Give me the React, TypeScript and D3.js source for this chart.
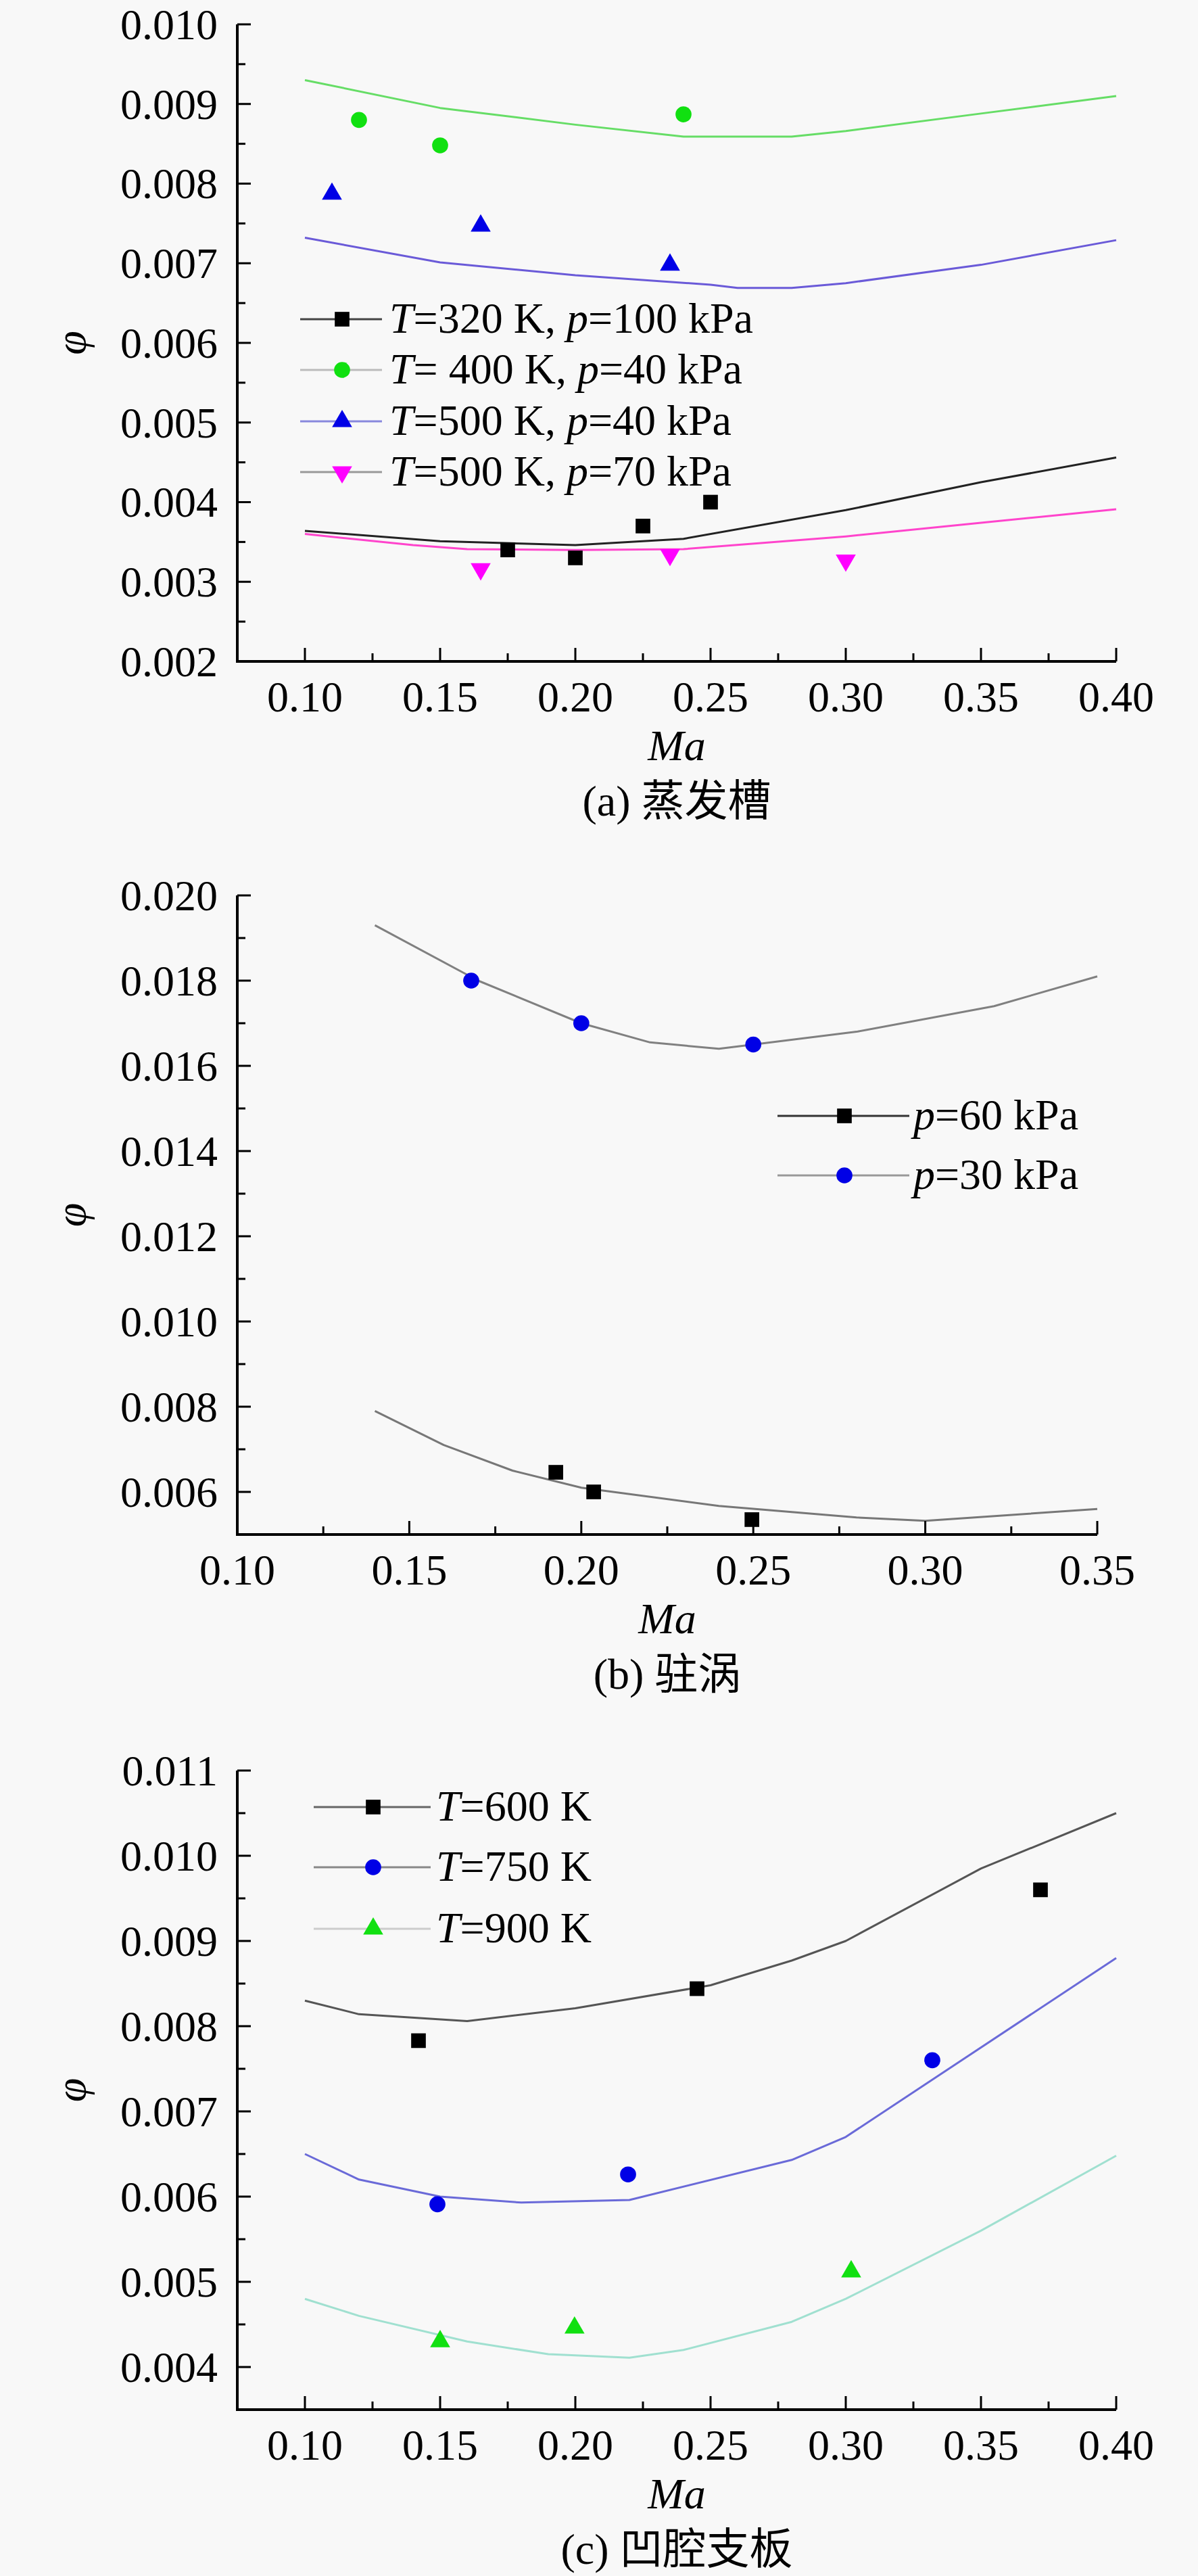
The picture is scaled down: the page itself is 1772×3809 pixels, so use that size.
import React from "react"
import * as d3 from "d3"

// ---------- data: (a) 蒸发槽 ----------
const aLineX320 = [0.10, 0.15, 0.20, 0.24, 0.30, 0.35, 0.40]
const aLineY320 = [0.00364, 0.00351, 0.00346, 0.00354, 0.0039, 0.00425, 0.00456]
const aLineX400 = [0.10, 0.15, 0.20, 0.24, 0.28, 0.30, 0.35, 0.40]
const aLineY400 = [0.0093, 0.00895, 0.00874, 0.00859, 0.00859, 0.00866, 0.00888, 0.0091]
const aLineX500a = [0.10, 0.15, 0.20, 0.25, 0.26, 0.28, 0.30, 0.35, 0.40]
const aLineY500a = [0.00732, 0.00701, 0.00685, 0.00673, 0.00669, 0.00669, 0.00675, 0.00698, 0.00729]
const aLineX500b = [0.10, 0.14, 0.16, 0.20, 0.24, 0.30, 0.35, 0.40]
const aLineY500b = [0.0036, 0.00346, 0.00341, 0.0034, 0.00341, 0.00357, 0.00374, 0.00391]

const aExpX320 = [0.175, 0.20, 0.225, 0.25]
const aExpY320 = [0.0034, 0.0033, 0.0037, 0.0040]
const aExpX400 = [0.12, 0.15, 0.24]
const aExpY400 = [0.0088, 0.00848, 0.00887]
const aExpX500a = [0.11, 0.165, 0.235]
const aExpY500a = [0.00787, 0.00747, 0.00698]
const aExpX500b = [0.165, 0.235, 0.30]
const aExpY500b = [0.00316, 0.00334, 0.00327]

// ---------- data: (b) 驻涡 ----------
const bLineX60 = [0.14, 0.16, 0.18, 0.20, 0.24, 0.28, 0.30, 0.35]
const bLineY60 = [0.0079, 0.0071, 0.0065, 0.0061, 0.00567, 0.0054, 0.00532, 0.0056]
const bLineX30 = [0.14, 0.17, 0.20, 0.22, 0.24, 0.25, 0.28, 0.32, 0.35]
const bLineY30 = [0.0193, 0.0180, 0.0170, 0.01655, 0.0164, 0.0165, 0.0168, 0.0174, 0.0181]
const bExpX60 = [0.1926, 0.2036, 0.2496]
const bExpY60 = [0.00646, 0.0060, 0.00535]
const bExpX30 = [0.168, 0.20, 0.25]
const bExpY30 = [0.0180, 0.0170, 0.0165]

// ---------- data: (c) 凹腔支板 ----------
const cLineX600 = [0.10, 0.12, 0.16, 0.20, 0.25, 0.28, 0.30, 0.35, 0.40]
const cLineY600 = [0.0083, 0.00814, 0.00806, 0.00821, 0.00848, 0.00877, 0.009, 0.00985, 0.0105]
const cLineX750 = [0.10, 0.12, 0.15, 0.18, 0.22, 0.28, 0.30, 0.40]
const cLineY750 = [0.0065, 0.0062, 0.006, 0.00593, 0.00596, 0.00643, 0.0067, 0.0088]
const cLineX900 = [0.10, 0.12, 0.16, 0.19, 0.22, 0.24, 0.28, 0.30, 0.35, 0.40]
const cLineY900 = [0.0048, 0.0046, 0.0043, 0.00415, 0.00411, 0.0042, 0.00453, 0.0048, 0.0056, 0.00648]
const cExpX600 = [0.142, 0.245, 0.372]
const cExpY600 = [0.00783, 0.00844, 0.0096]
const cExpX750 = [0.149, 0.2195, 0.332]
const cExpY750 = [0.00591, 0.00626, 0.0076]
const cExpX900 = [0.15, 0.1997, 0.302]
const cExpY900 = [0.0043, 0.00446, 0.00512]

// ---------- ticks ----------
const xMajorAC = [0.10, 0.15, 0.20, 0.25, 0.30, 0.35, 0.40]
const xMinorAC = [0.125, 0.175, 0.225, 0.275, 0.325, 0.375]
const yMajorA = [0.002, 0.003, 0.004, 0.005, 0.006, 0.007, 0.008, 0.009, 0.010]
const yMinorA = [0.0025, 0.0035, 0.0045, 0.0055, 0.0065, 0.0075, 0.0085, 0.0095]
const xMajorB = [0.10, 0.15, 0.20, 0.25, 0.30, 0.35]
const xMinorB = [0.125, 0.175, 0.225, 0.275, 0.325]
const yMajorB = [0.006, 0.008, 0.010, 0.012, 0.014, 0.016, 0.018, 0.020]
const yMinorB = [0.007, 0.009, 0.011, 0.013, 0.015, 0.017, 0.019]
const yMajorC = [0.004, 0.005, 0.006, 0.007, 0.008, 0.009, 0.010, 0.011]
const yMinorC = [0.0045, 0.0055, 0.0065, 0.0075, 0.0085, 0.0095, 0.0105]

const FONT = '"Liberation Serif", "Times New Roman", "Noto Sans CJK SC", serif'
const FS = 64

type Series = {
  lx: number[]; ly: number[]; px: number[]; py: number[]
  line: string; marker: string; shape: "square" | "circle" | "up" | "down"
  legendLine: string; label: React.ReactNode
}

type PanelCfg = {
  xDomain: [number, number]; xRange: [number, number]
  yDomain: [number, number]; yRange: [number, number]
  xMajor: number[]; xMinor: number[]; yMajor: number[]; yMinor: number[]
  series: Series[]
  legend: { rows: number[]; x0: number; x1: number; mx: number; tx: number }
  caption: string
}

const it = (s: string) => <tspan fontStyle="italic">{s}</tspan>

function markerPath(shape: Series["shape"]) {
  if (shape === "square") return d3.symbol(d3.symbolSquare, 470)()
  if (shape === "circle") return d3.symbol(d3.symbolCircle, 440)()
  return d3.symbol(d3.symbolTriangle, 380)()
}

function Marker({ x, y, s }: { x: number; y: number; s: Series }) {
  const rot = s.shape === "down" ? " rotate(180)" : ""
  return <path d={markerPath(s.shape) || ""} transform={`translate(${x},${y})${rot}`} fill={s.marker} />
}

function Panel({ cfg }: { cfg: PanelCfg }) {
  const x = d3.scaleLinear().domain(cfg.xDomain).range(cfg.xRange)
  const y = d3.scaleLinear().domain(cfg.yDomain).range(cfg.yRange)
  const [left, right] = cfg.xRange
  const [bottom, top] = cfg.yRange
  const fx = d3.format(".2f")
  const fy = d3.format(".3f")
  const midX = (left + right) / 2
  const midY = (top + bottom) / 2

  return (
    <g fontFamily={FONT} fontSize={FS} fill="#000">
      {cfg.series.map((s, i) => {
        const pts = s.lx.map((v, k) => [v, s.ly[k]] as [number, number])
        const path = d3.line<[number, number]>().x(d => x(d[0])).y(d => y(d[1]))(pts) || ""
        return <path key={"l" + i} d={path} fill="none" stroke={s.line} strokeWidth={3} strokeLinejoin="round" />
      })}
      {cfg.series.map((s, i) =>
        s.px.map((v, k) => <Marker key={`m${i}-${k}`} x={x(v)} y={y(s.py[k])} s={s} />)
      )}

      {/* axes */}
      <line x1={left} x2={left} y1={top} y2={bottom + 2} stroke="#000" strokeWidth={4} />
      <line x1={left - 2} x2={right} y1={bottom} y2={bottom} stroke="#000" strokeWidth={4} />
      {cfg.xMajor.map(v => (
        <g key={"xM" + v}>
          <line x1={x(v)} x2={x(v)} y1={bottom} y2={bottom - 20} stroke="#000" strokeWidth={3} />
          <text x={x(v)} y={bottom + 74} textAnchor="middle">{fx(v)}</text>
        </g>
      ))}
      {cfg.xMinor.map(v => (
        <line key={"xm" + v} x1={x(v)} x2={x(v)} y1={bottom} y2={bottom - 12} stroke="#000" strokeWidth={3} />
      ))}
      {cfg.yMajor.map(v => (
        <g key={"yM" + v}>
          <line x1={left} x2={left + 20} y1={y(v)} y2={y(v)} stroke="#000" strokeWidth={3} />
          <text x={left - 29} y={y(v)} dy="0.34em" textAnchor="end">{fy(v)}</text>
        </g>
      ))}
      {cfg.yMinor.map(v => (
        <line key={"ym" + v} x1={left} x2={left + 12} y1={y(v)} y2={y(v)} stroke="#000" strokeWidth={3} />
      ))}

      <text x={midX} y={bottom + 146} textAnchor="middle" fontStyle="italic">Ma</text>
      <text x={107} y={midY} dy="0.3em" textAnchor="middle" fontStyle="italic"
        transform={`rotate(-90,107,${midY})`}>φ</text>
      <text x={midX} y={bottom + 228} textAnchor="middle">{cfg.caption}</text>

      {/* legend */}
      {cfg.series.map((s, i) => {
        const ry = cfg.legend.rows[i]
        return (
          <g key={"lg" + i}>
            <line x1={cfg.legend.x0} x2={cfg.legend.x1} y1={ry} y2={ry} stroke={s.legendLine} strokeWidth={3} />
            <Marker x={cfg.legend.mx} y={ry} s={s} />
            <text x={cfg.legend.tx} y={ry} dy="0.31em">{s.label}</text>
          </g>
        )
      })}
    </g>
  )
}

const panelA: PanelCfg = {
  xDomain: [0.075, 0.40], xRange: [351, 1651],
  yDomain: [0.002, 0.010], yRange: [978, 36],
  xMajor: xMajorAC, xMinor: xMinorAC, yMajor: yMajorA, yMinor: yMinorA,
  series: [
    { lx: aLineX320, ly: aLineY320, px: aExpX320, py: aExpY320, line: "#222222", marker: "#000000", shape: "square",
      legendLine: "#444444", label: <>{it("T")}=320 K, {it("p")}=100 kPa</> },
    { lx: aLineX400, ly: aLineY400, px: aExpX400, py: aExpY400, line: "#66dd66", marker: "#11e011", shape: "circle",
      legendLine: "#bbbbbb", label: <>{it("T")}= 400 K, {it("p")}=40 kPa</> },
    { lx: aLineX500a, ly: aLineY500a, px: aExpX500a, py: aExpY500a, line: "#6a5ad8", marker: "#0000e6", shape: "up",
      legendLine: "#8888dd", label: <>{it("T")}=500 K, {it("p")}=40 kPa</> },
    { lx: aLineX500b, ly: aLineY500b, px: aExpX500b, py: aExpY500b, line: "#ff44cc", marker: "#ff00ff", shape: "down",
      legendLine: "#999999", label: <>{it("T")}=500 K, {it("p")}=70 kPa</> },
  ],
  legend: { rows: [472, 547, 623, 698], x0: 444, x1: 565, mx: 506, tx: 576 },
  caption: "(a) 蒸发槽",
}

const panelB: PanelCfg = {
  xDomain: [0.10, 0.35], xRange: [351, 1623],
  yDomain: [0.005, 0.020], yRange: [2269, 1324],
  xMajor: xMajorB, xMinor: xMinorB, yMajor: yMajorB, yMinor: yMinorB,
  series: [
    { lx: bLineX60, ly: bLineY60, px: bExpX60, py: bExpY60, line: "#777777", marker: "#000000", shape: "square",
      legendLine: "#333333", label: <>{it("p")}=60 kPa</> },
    { lx: bLineX30, ly: bLineY30, px: bExpX30, py: bExpY30, line: "#808080", marker: "#0000e6", shape: "circle",
      legendLine: "#999999", label: <>{it("p")}=30 kPa</> },
  ],
  legend: { rows: [1650, 1738], x0: 1150, x1: 1345, mx: 1249, tx: 1351 },
  caption: "(b) 驻涡",
}

const panelC: PanelCfg = {
  xDomain: [0.075, 0.40], xRange: [351, 1651],
  yDomain: [0.0035, 0.011], yRange: [3563, 2618],
  xMajor: xMajorAC, xMinor: xMinorAC, yMajor: yMajorC, yMinor: yMinorC,
  series: [
    { lx: cLineX600, ly: cLineY600, px: cExpX600, py: cExpY600, line: "#555555", marker: "#000000", shape: "square",
      legendLine: "#666666", label: <>{it("T")}=600 K</> },
    { lx: cLineX750, ly: cLineY750, px: cExpX750, py: cExpY750, line: "#6a6ad8", marker: "#0000e6", shape: "circle",
      legendLine: "#888888", label: <>{it("T")}=750 K</> },
    { lx: cLineX900, ly: cLineY900, px: cExpX900, py: cExpY900, line: "#a0e0d0", marker: "#11e011", shape: "up",
      legendLine: "#cccccc", label: <>{it("T")}=900 K</> },
  ],
  legend: { rows: [2672, 2761, 2852], x0: 464, x1: 637, mx: 552, tx: 645 },
  caption: "(c) 凹腔支板",
}

export default function App() {
  return (
    <div style={{ position: "absolute", left: 0, top: 0 }}>
      <svg width={1772} height={3809} xmlns="http://www.w3.org/2000/svg">
        <rect width={1772} height={3809} fill="#f8f8f8" />
        <Panel cfg={panelA} />
        <Panel cfg={panelB} />
        <Panel cfg={panelC} />
      </svg>
    </div>
  )
}
